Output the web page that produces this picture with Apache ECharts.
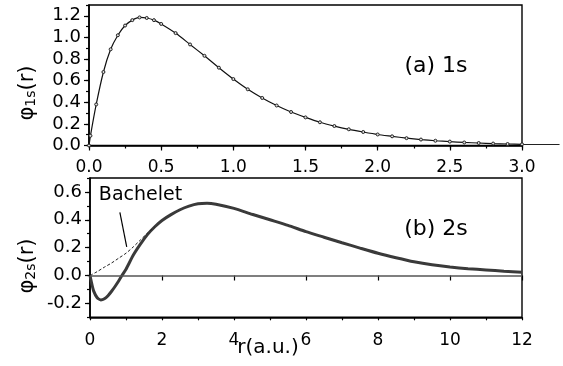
<!DOCTYPE html>
<html>
<head>
<meta charset="utf-8">
<script src="https://cdn.jsdelivr.net/npm/echarts@6/dist/echarts.min.js"></script>
<style>
  html, body { margin: 0; padding: 0; background: #fff; }
  #chart { width: 563px; height: 366px; }
</style>
</head>
<body>
<div id="chart"></div>
<script>
// (a) 1s orbital: radius (a.u.) and wavefunction values
const r1s = [0, 0.01, 0.05, 0.1, 0.15, 0.2, 0.25, 0.3, 0.35, 0.4, 0.45, 0.5,
  0.6, 0.7, 0.8, 0.9, 1.0, 1.1, 1.2, 1.3, 1.4, 1.5, 1.6, 1.7, 1.8, 1.9, 2.0,
  2.1, 2.2, 2.3, 2.4, 2.5, 2.6, 2.7, 2.8, 2.9, 3.0];
const phi1s = [0, 0.09, 0.38, 0.68, 0.89, 1.02, 1.11, 1.16, 1.185, 1.18, 1.16, 1.125,
  1.04, 0.935, 0.83, 0.72, 0.615, 0.52, 0.44, 0.37, 0.31, 0.26, 0.215, 0.18, 0.15, 0.125, 0.102,
  0.085, 0.068, 0.055, 0.044, 0.036, 0.028, 0.023, 0.018, 0.014, 0.011];
// the 1s curve runs on a little past the end of the axis
const r1sTail = [3.0, 3.26];
const phi1sTail = [0.011, 0.008];

// (b) 2s orbital
const r2s = [0, 0.05, 0.1, 0.2, 0.3, 0.4, 0.5, 0.6, 0.7, 0.8, 0.9, 1.0, 1.2, 1.4, 1.6, 1.8,
  2.0, 2.25, 2.5, 2.75, 3.0, 3.25, 3.5, 4.0, 4.5, 5.0, 5.5, 6.0, 6.5, 7.0, 7.5, 8.0,
  8.5, 9.0, 9.5, 10.0, 10.5, 11.0, 11.5, 12.0];
const phi2s = [0, -0.06, -0.11, -0.16, -0.175, -0.167, -0.145, -0.113, -0.077, -0.038, 0.005, 0.045,
  0.145, 0.225, 0.295, 0.35, 0.395, 0.437, 0.472, 0.498, 0.515, 0.519, 0.512, 0.482, 0.44,
  0.40, 0.36, 0.315, 0.275, 0.235, 0.197, 0.16, 0.128, 0.099, 0.077, 0.061, 0.049, 0.04,
  0.031, 0.024];

// Bachelet pseudo-wavefunction near the core
const rBach = [0, 0.2, 0.4, 0.6, 0.8, 1.0, 1.2, 1.4, 1.6, 1.8];
const phiBach = [0, 0.028, 0.06, 0.09, 0.125, 0.16, 0.205, 0.255, 0.305, 0.35];

// Arrow from the "Bachelet" note to its curve, in data units (r, phi)
const arrowFrom = [0.83, 0.454];
const arrowTo = [1.02, 0.206];

// Tick label positions
const ticksX1 = [0, 0.5, 1.0, 1.5, 2.0, 2.5, 3.0];
const ticksY1 = [0, 0.2, 0.4, 0.6, 0.8, 1.0, 1.2];
const ticksX2 = [0, 2, 4, 6, 8, 10, 12];
const ticksY2 = [-0.2, 0, 0.2, 0.4, 0.6];

const FONT = 'DejaVu Sans';
const pairs = (xs, ys) => xs.map((x, i) => [x, ys[i]]);

function mainAxis(grid, pos, min, max, step, labels, digits, fs, margin) {
  return {
    type: 'value', gridIndex: grid, position: pos, offset: 0,
    min: min, max: max, interval: step,
    axisLine: { show: true, onZero: false, lineStyle: { color: '#000', width: 1.6 } },
    axisTick: { show: true, inside: false, length: 3, lineStyle: { color: '#000', width: 1.2 } },
    axisLabel: {
      show: true, customValues: labels, margin: margin,
      color: '#000', fontFamily: FONT, fontSize: fs,
      formatter: v => v.toFixed(digits)
    },
    splitLine: { show: false }
  };
}
function majorTickAxis(grid, pos, min, max, labels) {
  return {
    type: 'value', gridIndex: grid, position: pos, offset: 0,
    min: min, max: max,
    axisLine: { show: false },
    axisTick: { show: true, inside: false, length: 5, customValues: labels,
      lineStyle: { color: '#000', width: 1.2 } },
    axisLabel: { show: false },
    splitLine: { show: false }
  };
}

const chart = echarts.init(document.getElementById('chart'), null, { renderer: 'canvas' });
chart.setOption({
  animation: false,
  backgroundColor: '#fff',
  grid: [
    { left: 89, top: 5, width: 433, height: 140.5, show: true, borderColor: '#000', borderWidth: 1.4, backgroundColor: 'transparent' },
    { left: 90, top: 178, width: 432, height: 139.3, show: true, borderColor: '#000', borderWidth: 1.4, backgroundColor: 'transparent' }
  ],
  xAxis: [
    mainAxis(0, 'bottom', 0, 3, 0.25, ticksX1, 1, 17, 14),
    majorTickAxis(0, 'bottom', 0, 3, ticksX1),
    mainAxis(1, 'bottom', 0, 12, 1, ticksX2, 0, 17, 15),
    majorTickAxis(1, 'bottom', 0, 12, ticksX2)
  ],
  yAxis: [
    mainAxis(0, 'left', 0, 1.3, 0.1, ticksY1, 1, 18, 8),
    majorTickAxis(0, 'left', 0, 1.3, ticksY1),
    mainAxis(1, 'left', -0.3, 0.7, 0.1, ticksY2, 1, 18, 8),
    majorTickAxis(1, 'left', -0.3, 0.7, ticksY2)
  ],
  series: [
    {
      type: 'line', xAxisIndex: 0, yAxisIndex: 0,
      data: pairs(r1s, phi1s), smooth: 0.2,
      symbol: 'circle', symbolSize: 3, showSymbol: true,
      itemStyle: { color: '#ddd', borderColor: '#222', borderWidth: 1 },
      lineStyle: { color: '#111', width: 1.2 }
    },
    {
      type: 'lines', coordinateSystem: 'cartesian2d', xAxisIndex: 0, yAxisIndex: 0,
      clip: false, silent: true,
      data: [{ coords: pairs(r1sTail, phi1sTail) }],
      lineStyle: { color: '#222', width: 1.2, opacity: 1 }
    },
    {
      type: 'line', xAxisIndex: 2, yAxisIndex: 2,
      data: pairs(r2s, phi2s), smooth: 0.2, showSymbol: false,
      lineStyle: { color: '#3a3a3a', width: 3 },
      markLine: {
        silent: true, symbol: 'none', label: { show: false },
        lineStyle: { color: '#555', width: 1.6, type: 'solid' },
        data: [{ yAxis: 0 }]
      }
    },
    {
      type: 'line', xAxisIndex: 2, yAxisIndex: 2,
      data: pairs(rBach, phiBach), smooth: 0.3, showSymbol: false,
      lineStyle: { color: '#222', width: 1, type: [3, 2] },
      markLine: {
        silent: true, symbol: ['none', 'arrow'], symbolSize: [0, 9],
        label: { show: false },
        lineStyle: { color: '#000', width: 1.2, type: 'solid' },
        data: [[{ coord: arrowFrom }, { coord: arrowTo }]]
      }
    }
  ],
  graphic: [
    { type: 'text', x: 436, y: 66, style: { text: '(a) 1s', fontFamily: FONT, fontSize: 22, fill: '#000', align: 'center', verticalAlign: 'middle' } },
    { type: 'text', x: 436, y: 229, style: { text: '(b) 2s', fontFamily: FONT, fontSize: 22, fill: '#000', align: 'center', verticalAlign: 'middle' } },
    { type: 'text', x: 140.5, y: 195.5, style: { text: 'Bachelet', fontFamily: FONT, fontSize: 19, fill: '#000', align: 'center', verticalAlign: 'middle' } },
    { type: 'text', x: 268, y: 348, style: { text: 'r(a.u.)', fontFamily: FONT, fontSize: 20, fill: '#000', align: 'center', verticalAlign: 'middle' } },
    {
      type: 'text', x: 26, y: 93, rotation: Math.PI / 2,
      style: {
        text: '{a|φ}{b|1s}{a|(r)}', align: 'center', verticalAlign: 'middle', fill: '#000',
        rich: {
          a: { fontFamily: FONT, fontSize: 21, lineHeight: 24, verticalAlign: 'bottom', fill: '#000' },
          b: { fontFamily: FONT, fontSize: 14, lineHeight: 14, verticalAlign: 'bottom', fill: '#000' }
        }
      }
    },
    {
      type: 'text', x: 26, y: 266, rotation: Math.PI / 2,
      style: {
        text: '{a|φ}{b|2s}{a|(r)}', align: 'center', verticalAlign: 'middle', fill: '#000',
        rich: {
          a: { fontFamily: FONT, fontSize: 21, lineHeight: 24, verticalAlign: 'bottom', fill: '#000' },
          b: { fontFamily: FONT, fontSize: 14, lineHeight: 14, verticalAlign: 'bottom', fill: '#000' }
        }
      }
    }
  ]
});
</script>
</body>
</html>
